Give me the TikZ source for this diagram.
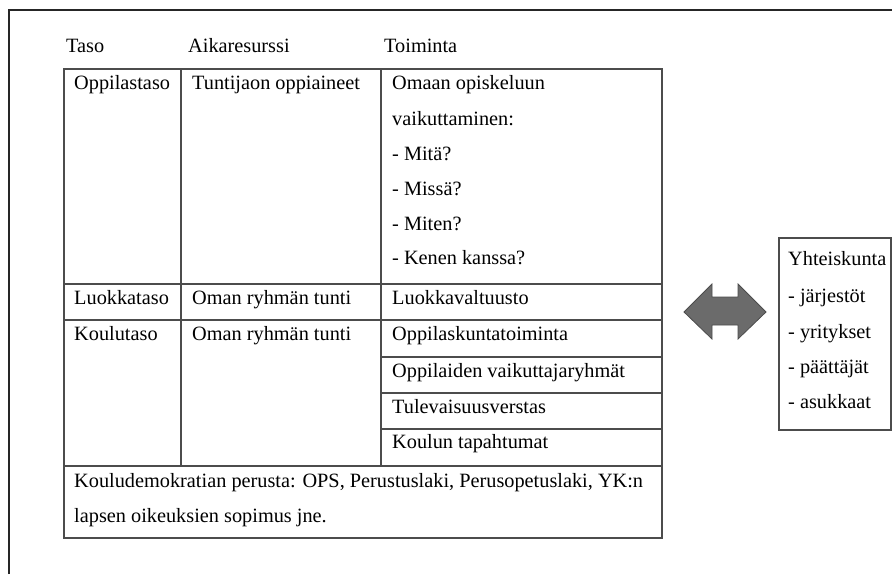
\documentclass[tikz,border=0pt]{standalone}
\usepackage{fontspec}
\setmainfont{Liberation Serif}
\begin{document}
\begin{tikzpicture}[x=1pt,y=-1pt,
  txt/.style={anchor=base west,inner sep=0pt,font=\fontsize{20.3}{24}\selectfont,text=black},
  grid/.style={draw=black!70,line width=1.3pt},
  frame/.style={draw=black!85,line width=1.8pt},
  arrowshape/.style={fill=black!58,draw=black!70,line width=0.8pt,line join=miter}]
\useasboundingbox (0,0) rectangle (892,574);
\fill[white] (0,0) rectangle (892,574);
% outer frame (top and left edges visible)
\draw[frame] (9,574) -- (9,10) -- (892,10);
% header
\node[txt] (hTaso) at (66,52) {Taso};
\node[txt] (hAika) at (188,52) {Aikaresurssi};
\node[txt] (hToim) at (384,52) {Toiminta};
% table grid
\draw[grid] (64,69) rectangle (662,538);
\draw[grid] (181,69) -- (181,466);
\draw[grid] (381,69) -- (381,466);
\draw[grid] (64,284) -- (662,284);
\draw[grid] (64,320) -- (662,320);
\draw[grid] (381,357) -- (662,357);
\draw[grid] (381,393) -- (662,393);
\draw[grid] (381,429) -- (662,429);
\draw[grid] (64,466) -- (662,466);
% row 1
\node[txt] (r1a) at (74,89) {Oppilastaso};
\node[txt] (r1b) at (192,89) {Tuntijaon oppiaineet};
\node[txt] (r1c1) at (392,89) {Omaan opiskeluun};
\node[txt] (r1c2) at (392,125) {vaikuttaminen:};
\node[txt] (r1c3) at (392,160) {- Mitä?};
\node[txt] (r1c4) at (392,195) {- Missä?};
\node[txt] (r1c5) at (392,230) {- Miten?};
\node[txt] (r1c6) at (392,264) {- Kenen kanssa?};
% row 2
\node[txt] (r2a) at (74,304) {Luokkataso};
\node[txt] (r2b) at (192,304) {Oman ryhmän tunti};
\node[txt] (r2c) at (392,304) {Luokkavaltuusto};
% row 3
\node[txt] (r3a) at (74,340) {Koulutaso};
\node[txt] (r3b) at (192,340) {Oman ryhmän tunti};
\node[txt] (r3c1) at (392,340) {Oppilaskuntatoiminta};
\node[txt] (r3c2) at (392,377) {Oppilaiden vaikuttajaryhmät};
\node[txt] (r3c3) at (392,413) {Tulevaisuusverstas};
\node[txt] (r3c4) at (392,448) {Koulun tapahtumat};
% bottom row
\node[txt] (f1) at (74,487) {Kouludemokratian perusta: OPS, Perustuslaki, Perusopetuslaki, YK:n};
\node[txt] (f2) at (74,522) {lapsen oikeuksien sopimus jne.};
% double arrow
\draw[arrowshape] (684,312) -- (712,284) -- (712,297) -- (738,297) -- (738,284)
  -- (766,312) -- (738,339) -- (738,325) -- (712,325) -- (712,339) -- cycle;
% society box
\draw[grid] (779,238) rectangle (891,430);
\node[txt] (s0) at (788,265) {Yhteiskunta};
\node[txt] (s1) at (788,302) {- järjestöt};
\node[txt] (s2) at (788,338) {- yritykset};
\node[txt] (s3) at (788,373) {- päättäjät};
\node[txt] (s4) at (788,408) {- asukkaat};
\end{tikzpicture}
\end{document}
